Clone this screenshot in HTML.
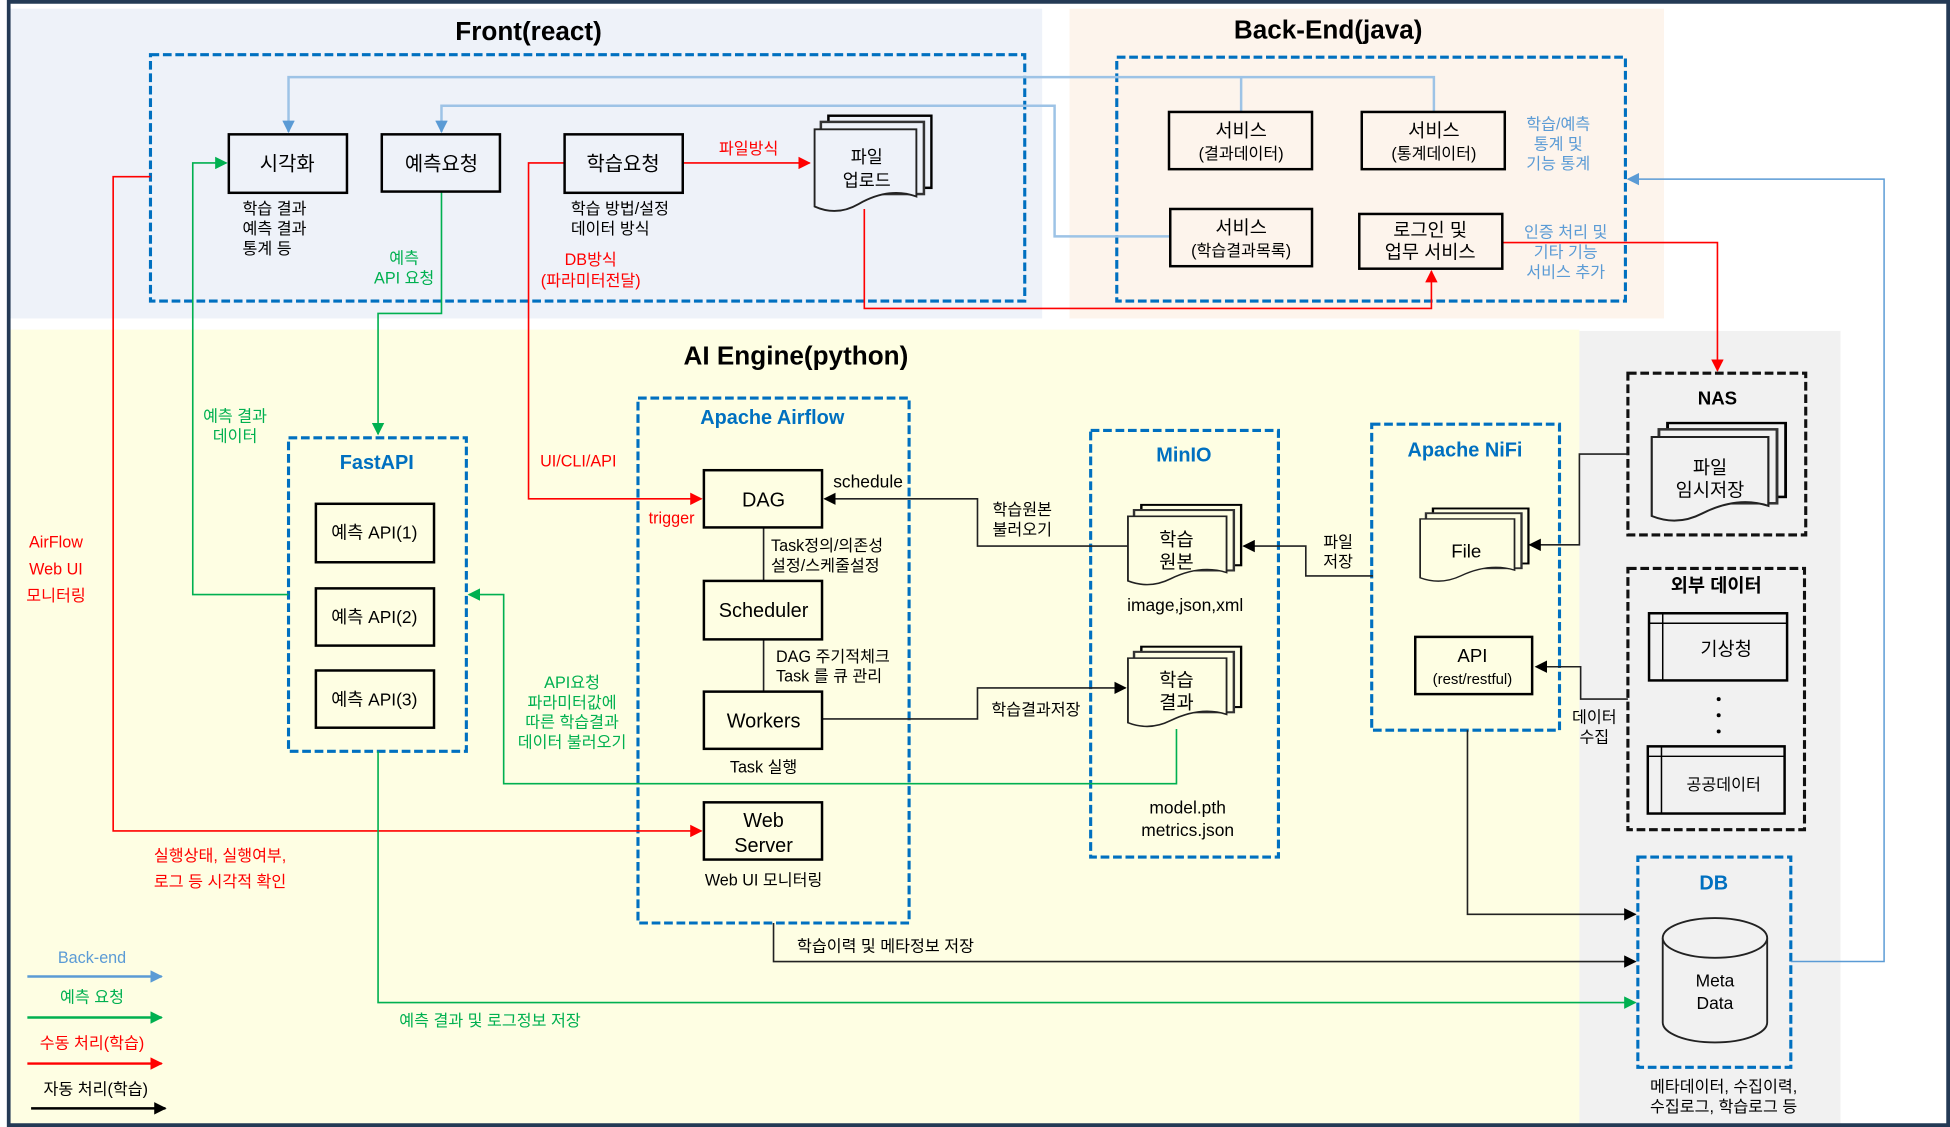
<!DOCTYPE html>
<html><head><meta charset="utf-8">
<style>
html,body{margin:0;padding:0;background:#fff;}
svg{display:block;}
text{font-family:"Liberation Sans","Noto Sans CJK KR",sans-serif;}
</style></head>
<body>
<svg width="1950" height="1127" viewBox="0 0 1568 906" preserveAspectRatio="none" xmlns="http://www.w3.org/2000/svg">
<defs>
<marker id="ab" markerWidth="10" markerHeight="10" refX="9" refY="5" orient="auto" markerUnits="userSpaceOnUse"><path d="M0,0 L10,5 L0,10 Z" fill="#000"/></marker>
<marker id="ar" markerWidth="10" markerHeight="10" refX="9" refY="5" orient="auto" markerUnits="userSpaceOnUse"><path d="M0,0 L10,5 L0,10 Z" fill="#ff0000"/></marker>
<marker id="ag" markerWidth="10" markerHeight="10" refX="9" refY="5" orient="auto" markerUnits="userSpaceOnUse"><path d="M0,0 L10,5 L0,10 Z" fill="#00b050"/></marker>
<marker id="al" markerWidth="10" markerHeight="10" refX="9" refY="5" orient="auto" markerUnits="userSpaceOnUse"><path d="M0,0 L10,5 L0,10 Z" fill="#5b9bd5"/></marker>
<symbol id="doc" viewBox="0 0 95 80" preserveAspectRatio="none">
<rect x="12" y="1" width="82" height="58" stroke="#000" stroke-width="2"/>
<rect x="6" y="6" width="82" height="58" stroke="#333" stroke-width="2"/>
<path d="M1,12 H82 V66 C66,60 50,64 36,72 C24,79 12,79 1,74 Z" stroke="#222" stroke-width="1.5"/>
</symbol>
</defs>

<!-- backgrounds -->
<rect x="0" y="0" width="1568" height="906" fill="#fff"/>
<rect x="8" y="7" width="830" height="249" fill="#eef2f9"/>
<rect x="860" y="7" width="478" height="249" fill="#fdf4ec"/>
<rect x="8" y="265" width="1262" height="639" fill="#fefee3"/>
<rect x="1270" y="266" width="210" height="638" fill="#f1f1f1"/>
<path d="M7,906 V1.5 H1566.5 V904.5 H7" fill="none" stroke="#243a55" stroke-width="3"/>

<!-- titles -->
<text x="425" y="32" font-size="21" font-weight="bold" text-anchor="middle">Front(react)</text>
<text x="1068" y="31" font-size="21" font-weight="bold" text-anchor="middle">Back-End(java)</text>
<text x="640" y="293" font-size="21" font-weight="bold" text-anchor="middle">AI Engine(python)</text>

<!-- dashed containers -->
<g fill="none" stroke="#0070c0" stroke-width="2.5" stroke-dasharray="7,3">
<rect x="121" y="44" width="703" height="198"/>
<rect x="898" y="46" width="409" height="196"/>
<rect x="513" y="320" width="218" height="422"/>
<rect x="232" y="352" width="143" height="252"/>
<rect x="877" y="346" width="151" height="343"/>
<rect x="1103" y="341" width="151" height="246"/>
<rect x="1317" y="689" width="123" height="169"/>
</g>
<g fill="none" stroke="#111" stroke-width="2.5" stroke-dasharray="7,3">
<rect x="1309" y="300" width="143" height="130"/>
<rect x="1309" y="457" width="142" height="210"/>
</g>

<!-- connectors: back-end blue -->
<g fill="none" stroke-width="2">
<path d="M1153,90 V62 H232 V106" stroke="#9dc3e6" marker-end="url(#al)"/>
<path d="M998,90 V62" stroke="#9dc3e6"/>
<path d="M941,190 H848 V85 H355 V106" stroke="#9dc3e6" marker-end="url(#al)"/>
<path d="M1440,773 H1515 V144 H1309" stroke="#5b9bd5" stroke-width="1.2" marker-end="url(#al)"/>
</g>
<!-- red -->
<g fill="none" stroke="#ff0000" stroke-width="1.3">
<path d="M454,131 H425 V401 H564" marker-end="url(#ar)"/>
<path d="M549,131 H651" marker-end="url(#ar)"/>
<path d="M695,168 V248 H1151 V218" marker-end="url(#ar)"/>
<path d="M1208,195 H1381 V298" marker-end="url(#ar)"/>
<path d="M121,142 H91 V668 H564" marker-end="url(#ar)"/>
</g>
<!-- green -->
<g fill="none" stroke="#00b050" stroke-width="1.3">
<path d="M355,154 V252 H304 V349" marker-end="url(#ag)"/>
<path d="M232,478 H155 V131 H182" marker-end="url(#ag)"/>
<path d="M946,586 V630 H405 V478 H377" marker-end="url(#ag)"/>
<path d="M304,604 V806 H1315" marker-end="url(#ag)"/>
</g>
<!-- black -->
<g fill="none" stroke="#222" stroke-width="1.3">
<path d="M622,742 V773 H1315" marker-end="url(#ab)"/>
<path d="M1180,587 V735 H1315" marker-end="url(#ab)"/>
<path d="M614,424 V467 M614,514 V556"/>
<path d="M661,578 H786 V553 H905" marker-end="url(#ab)"/>
<path d="M907,439 H786 V401 H663" marker-end="url(#ab)"/>
<path d="M1104,463 H1050 V439 H1000" marker-end="url(#ab)"/>
<path d="M1309,365 H1270 V438 H1230" marker-end="url(#ab)"/>
<path d="M1309,562 H1271 V536 H1235" marker-end="url(#ab)"/>
</g>

<!-- front nodes -->
<g fill="#eef2f9" stroke="#000" stroke-width="2">
<rect x="184" y="108" width="95" height="47"/>
<rect x="307" y="108" width="95" height="46"/>
<rect x="454" y="108" width="95" height="47"/>
</g>
<use href="#doc" x="654" y="92" width="96" height="80" fill="#eef2f9"/>
<g font-size="16" text-anchor="middle">
<text x="231" y="137">시각화</text>
<text x="355" y="137">예측요청</text>
<text x="501" y="137">학습요청</text>
</g>
<g font-size="14" text-anchor="middle">
<text x="697" y="131">파일</text>
<text x="697" y="150">업로드</text>
</g>
<g font-size="13">
<text x="195" y="172">학습 결과</text>
<text x="195" y="188">예측 결과</text>
<text x="195" y="204">통계 등</text>
<text x="459" y="172">학습 방법/설정</text>
<text x="459" y="188">데이터 방식</text>
</g>
<g font-size="13" fill="#00b050" text-anchor="middle">
<text x="325" y="212">예측</text>
<text x="325" y="228">API 요청</text>
<text x="189" y="339">예측 결과</text>
<text x="189" y="355">데이터</text>
<text x="460" y="553">API요청</text>
<text x="460" y="569">파라미터값에</text>
<text x="460" y="585">따른 학습결과</text>
<text x="460" y="601">데이터 불러오기</text>
<text x="394" y="825">예측 결과 및 로그정보 저장</text>
</g>
<g font-size="13" fill="#ff0000" text-anchor="middle">
<text x="602" y="124">파일방식</text>
<text x="475" y="213">DB방식</text>
<text x="475" y="230">(파라미터전달)</text>
<text x="465" y="375">UI/CLI/API</text>
<text x="540" y="421">trigger</text>
<text x="45" y="440">AirFlow</text>
<text x="45" y="462">Web UI</text>
<text x="45" y="483">모니터링</text>
<text x="177" y="692">실행상태, 실행여부,</text>
<text x="177" y="713">로그 등 시각적 확인</text>
</g>

<!-- back nodes -->
<g fill="#fdf4ec" stroke="#000" stroke-width="2">
<rect x="940" y="90" width="115" height="46"/>
<rect x="1095" y="90" width="115" height="46"/>
<rect x="941" y="168" width="114" height="46"/>
<rect x="1093" y="172" width="115" height="44"/>
</g>
<g text-anchor="middle">
<text x="998" y="110" font-size="15">서비스</text>
<text x="998" y="128" font-size="13">(결과데이터)</text>
<text x="1153" y="110" font-size="15">서비스</text>
<text x="1153" y="128" font-size="13">(통계데이터)</text>
<text x="998" y="188" font-size="15">서비스</text>
<text x="998" y="206" font-size="13">(학습결과목록)</text>
<text x="1150" y="190" font-size="15">로그인 및</text>
<text x="1150" y="208" font-size="15">업무 서비스</text>
</g>
<g font-size="13" fill="#5b9bd5" text-anchor="middle">
<text x="1253" y="104">학습/예측</text>
<text x="1253" y="120">통계 및</text>
<text x="1253" y="136">기능 통계</text>
<text x="1259" y="191">인증 처리 및</text>
<text x="1259" y="207">기타 기능</text>
<text x="1259" y="223">서비스 추가</text>
</g>

<!-- AI section titles -->
<g font-size="16" font-weight="bold" fill="#0070c0" text-anchor="middle">
<text x="621" y="341">Apache Airflow</text>
<text x="303" y="377">FastAPI</text>
<text x="952" y="371">MinIO</text>
<text x="1178" y="367">Apache NiFi</text>
<text x="1378" y="715">DB</text>
</g>
<g font-size="15" font-weight="bold" text-anchor="middle">
<text x="1381" y="325">NAS</text>
<text x="1380" y="476">외부 데이터</text>
</g>

<!-- airflow nodes -->
<g fill="#fefee3" stroke="#000" stroke-width="2">
<rect x="566" y="378" width="95" height="46"/>
<rect x="566" y="467" width="95" height="47"/>
<rect x="566" y="556" width="95" height="46"/>
<rect x="566" y="645" width="95" height="46"/>
<rect x="254" y="405" width="95" height="47"/>
<rect x="254" y="473" width="95" height="46"/>
<rect x="254" y="539" width="95" height="46"/>
<rect x="1138" y="512" width="94" height="46"/>
</g>
<g font-size="16" text-anchor="middle">
<text x="614" y="407">DAG</text>
<text x="614" y="496">Scheduler</text>
<text x="614" y="585">Workers</text>
<text x="614" y="665">Web</text>
<text x="614" y="685">Server</text>
</g>
<g font-size="14" text-anchor="middle">
<text x="301" y="433">예측 API(1)</text>
<text x="301" y="501">예측 API(2)</text>
<text x="301" y="567">예측 API(3)</text>
<text x="1184" y="532" font-size="15">API</text>
<text x="1184" y="550" font-size="12">(rest/restful)</text>
</g>
<g font-size="13">
<text x="670" y="392" font-size="14">schedule</text>
<text x="620" y="443">Task정의/의존성</text>
<text x="620" y="459">설정/스케줄설정</text>
<text x="624" y="532">DAG 주기적체크</text>
<text x="624" y="548">Task 를 큐 관리</text>
<text x="614" y="621" text-anchor="middle">Task 실행</text>
<text x="614" y="712" text-anchor="middle">Web UI  모니터링</text>
<text x="822" y="414" text-anchor="middle">학습원본</text>
<text x="822" y="430" text-anchor="middle">불러오기</text>
<text x="833" y="575" text-anchor="middle">학습결과저장</text>
<text x="1076" y="440" text-anchor="middle">파일</text>
<text x="1076" y="456" text-anchor="middle">저장</text>
<text x="1282" y="581" text-anchor="middle">데이터</text>
<text x="1282" y="597" text-anchor="middle">수집</text>
<text x="712" y="765" text-anchor="middle">학습이력 및 메타정보 저장</text>
</g>

<!-- documents -->
<use href="#doc" x="906" y="405" width="93" height="67" fill="#fefee3"/>
<use href="#doc" x="906" y="519" width="93" height="67" fill="#fefee3"/>
<use href="#doc" x="1141" y="408" width="89" height="61" fill="#fefee3"/>
<use href="#doc" x="1327" y="339" width="110" height="82" fill="#f1f1f1"/>
<g font-size="15" text-anchor="middle">
<text x="946" y="439">학습</text>
<text x="946" y="457">원본</text>
<text x="946" y="552">학습</text>
<text x="946" y="570">결과</text>
<text x="1179" y="448">File</text>
<text x="1375" y="381">파일</text>
<text x="1375" y="399">임시저장</text>
</g>
<g font-size="14" text-anchor="middle">
<text x="953" y="491">image,json,xml</text>
<text x="955" y="654">model.pth</text>
<text x="955" y="672">metrics.json</text>
</g>

<!-- external data tables -->
<g fill="#f1f1f1" stroke="#000" stroke-width="2">
<rect x="1326" y="493" width="111" height="54"/>
<rect x="1325" y="600" width="110" height="54"/>
</g>
<g stroke="#000" stroke-width="1.2">
<path d="M1326,501 H1437 M1337,493 V547"/>
<path d="M1325,608 H1435 M1336,600 V654"/>
</g>
<text x="1388" y="527" font-size="15" text-anchor="middle">기상청</text>
<text x="1386" y="635" font-size="13" text-anchor="middle">공공데이터</text>
<g fill="#000"><circle cx="1382" cy="562" r="1.6"/><circle cx="1382" cy="575" r="1.6"/><circle cx="1382" cy="588" r="1.6"/></g>

<!-- DB cylinder -->
<path d="M1337,754 V822 A42,16 0 0 0 1421,822 V754" fill="#f1f1f1" stroke="#222" stroke-width="1.5"/>
<ellipse cx="1379" cy="754" rx="42" ry="16" fill="#f1f1f1" stroke="#222" stroke-width="1.5"/>
<text x="1379" y="793" font-size="14" text-anchor="middle">Meta</text>
<text x="1379" y="811" font-size="14" text-anchor="middle">Data</text>
<text x="1386" y="878" font-size="13" text-anchor="middle">메타데이터, 수집이력,</text>
<text x="1386" y="894" font-size="13" text-anchor="middle">수집로그, 학습로그 등</text>

<!-- legend -->
<g font-size="13" text-anchor="middle">
<text x="74" y="774" fill="#5b9bd5">Back-end</text>
<text x="74" y="806" fill="#00b050">예측 요청</text>
<text x="74" y="843" fill="#ff0000">수동 처리(학습)</text>
<text x="77" y="880" fill="#000">자동 처리(학습)</text>
</g>
<g fill="none" stroke-width="2">
<path d="M22,785 H130" stroke="#5b9bd5" marker-end="url(#al)"/>
<path d="M22,818 H130" stroke="#00b050" marker-end="url(#ag)"/>
<path d="M22,855 H130" stroke="#ff0000" marker-end="url(#ar)"/>
<path d="M25,891 H133" stroke="#000" marker-end="url(#ab)"/>
</g>
</svg>
</body></html>
